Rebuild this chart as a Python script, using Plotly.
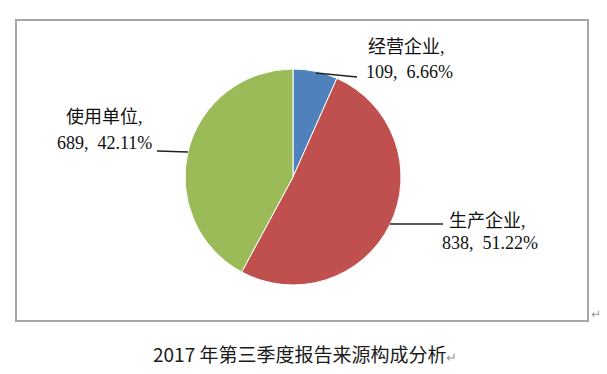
import plotly.graph_objects as go

# ---- data ----
categories = ["经营企业", "生产企业", "使用单位"]
counts = [109, 838, 689]
percents = ["6.66%", "51.22%", "42.11%"]
colors = ["#4F81BD", "#C0504D", "#9BBB59"]
caption = "2017 年第三季度报告来源构成分析"

W, H = 607, 374


def px(x):
    return x / W


def py(y):
    return 1 - y / H


# pie geometry (pixels)
cx, cy, r = 293, 177, 108

fig = go.Figure()
fig.add_trace(go.Pie(
    labels=categories,
    values=counts,
    marker=dict(colors=colors, line=dict(color="white", width=1)),
    sort=False,
    direction="clockwise",
    rotation=0,
    textinfo="none",
    hoverinfo="label+value+percent",
    showlegend=False,
    domain=dict(x=[px(cx - r), px(cx + r)], y=[py(cy + r), py(cy - r)]),
))

cjk = "Noto Sans CJK SC"
serif = "Liberation Serif"

# label placements: (name line left x, y), (value line left x, y), leader line
label_layout = {
    "经营企业": dict(nx=366, ny=45, vx=364, vy=72, line=((316, 73), (357, 77))),
    "生产企业": dict(nx=447, ny=219, vx=440, vy=243, line=((390, 224), (443, 224))),
    "使用单位": dict(nx=64, ny=115, vx=55, vy=143, line=((157, 151), (188, 152))),
}

annotations = []
shapes = []
for name, n, pct in zip(categories, counts, percents):
    L = label_layout[name]
    annotations.append(dict(
        x=px(L["nx"]), y=py(L["ny"]), xref="paper", yref="paper",
        xanchor="left", yanchor="middle", showarrow=False,
        text=name + "<span style='font-family:Liberation Serif'>,</span>",
        font=dict(family=cjk, size=18, color="#111111"),
    ))
    annotations.append(dict(
        x=px(L["vx"]), y=py(L["vy"]), xref="paper", yref="paper",
        xanchor="left", yanchor="middle", showarrow=False,
        text=f"{n},&#8194;{pct}", font=dict(family=serif, size=18, color="#111111"),
    ))
    (x0, y0), (x1, y1) = L["line"]
    shapes.append(dict(type="line", xref="paper", yref="paper",
                       x0=px(x0), y0=py(y0), x1=px(x1), y1=py(y1),
                       line=dict(color="#222222", width=1.5)))

# chart frame
shapes.append(dict(type="rect", xref="paper", yref="paper",
                   x0=px(16), x1=px(588), y0=py(321), y1=py(20),
                   line=dict(color="#A6A6A6", width=2), fillcolor="rgba(0,0,0,0)",
                   layer="below"))

# caption below frame
annotations.append(dict(
    x=px(305), y=py(353), xref="paper", yref="paper",
    xanchor="center", yanchor="middle", showarrow=False,
    text=caption + "<span style='color:#9a9a9a;font-size:13px'>↵</span>",
    font=dict(family=cjk, size=19, color="#1a1a1a"),
))
annotations.append(dict(
    x=px(596), y=py(314), xref="paper", yref="paper",
    xanchor="center", yanchor="middle", showarrow=False,
    text="↵", font=dict(family="DejaVu Sans", size=12, color="#9a9a9a"),
))

fig.update_layout(
    width=W, height=H, autosize=False,
    margin=dict(l=0, r=0, t=0, b=0),
    paper_bgcolor="white", plot_bgcolor="white",
    annotations=annotations, shapes=shapes,
)

fig.write_html("out.html", config={"displayModeBar": False},
               post_script="document.body.style.margin='0';")
